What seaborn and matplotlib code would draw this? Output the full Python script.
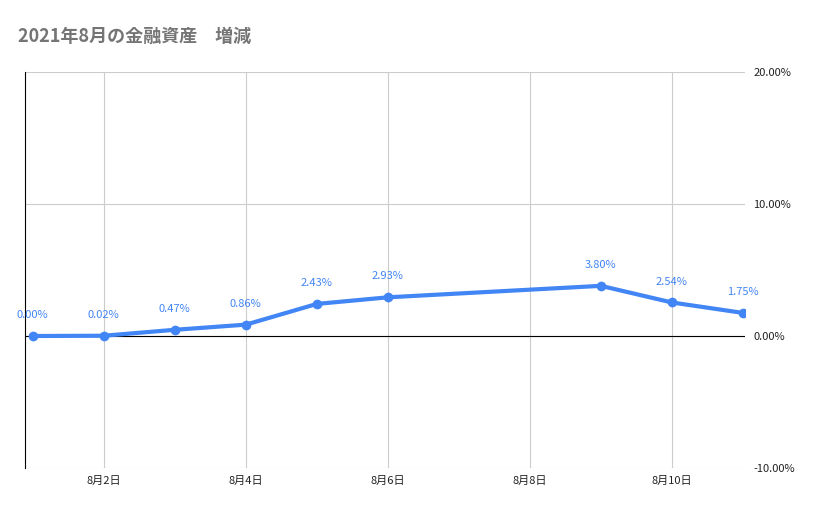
import matplotlib
matplotlib.use("Agg")
import matplotlib.pyplot as plt
import seaborn as sns
import pandas as pd

days = [1, 2, 3, 4, 5, 6, 9, 10, 11]
values = [0.00, 0.02, 0.47, 0.86, 2.43, 2.93, 3.80, 2.54, 1.75]
xticks = [2, 4, 6, 8, 10]
xticklabels = ["8月2日", "8月4日", "8月6日", "8月8日", "8月10日"]
yticks = [-10, 0, 10, 20]
title = "2021年8月の金融資産　増減"

sns.set_theme(style="white")
plt.rcParams['font.family'] = ['Noto Sans CJK JP', 'DejaVu Sans']

df = pd.DataFrame({"day": days, "value": values})
fig = plt.figure(figsize=(8.29, 5.14), dpi=100)
ax = fig.add_axes([25/829, 1-468/514, 720/829, 396/514])
color = "#4285f4"
sns.lineplot(data=df, x="day", y="value", ax=ax, color=color, linewidth=3,
             marker="o", markersize=7, markeredgewidth=0, zorder=3)
for d, v in zip(days, values):
    ax.text(d, v + 1.2, f"{v:.2f}%", color=color, fontsize=8, ha="center", va="bottom")

ax.set_xlim(0.89, 11.03)
ax.set_ylim(-10, 20)
ax.set_xticks(xticks)
ax.set_xticklabels(xticklabels, fontsize=8, color="#222222")
ax.set_yticks(yticks)
ax.set_yticklabels([f"{t:.2f}%" for t in yticks], fontsize=8, color="#222222")
ax.yaxis.tick_right()
ax.tick_params(axis="both", length=0, pad=6)
ax.grid(True, which="major", color="#cccccc", linewidth=0.8)
ax.axhline(0, color="black", linewidth=0.8, zorder=2)
for s in ["top", "right", "bottom"]:
    ax.spines[s].set_visible(False)
ax.spines["left"].set_color("black")
ax.spines["left"].set_linewidth(0.8)
ax.set_xlabel("")
ax.set_ylabel("")
fig.text(18/829, 1-36/514, title, fontsize=13, fontweight="bold", color="#757575", va="center")
fig.savefig("out.png", dpi=100)
